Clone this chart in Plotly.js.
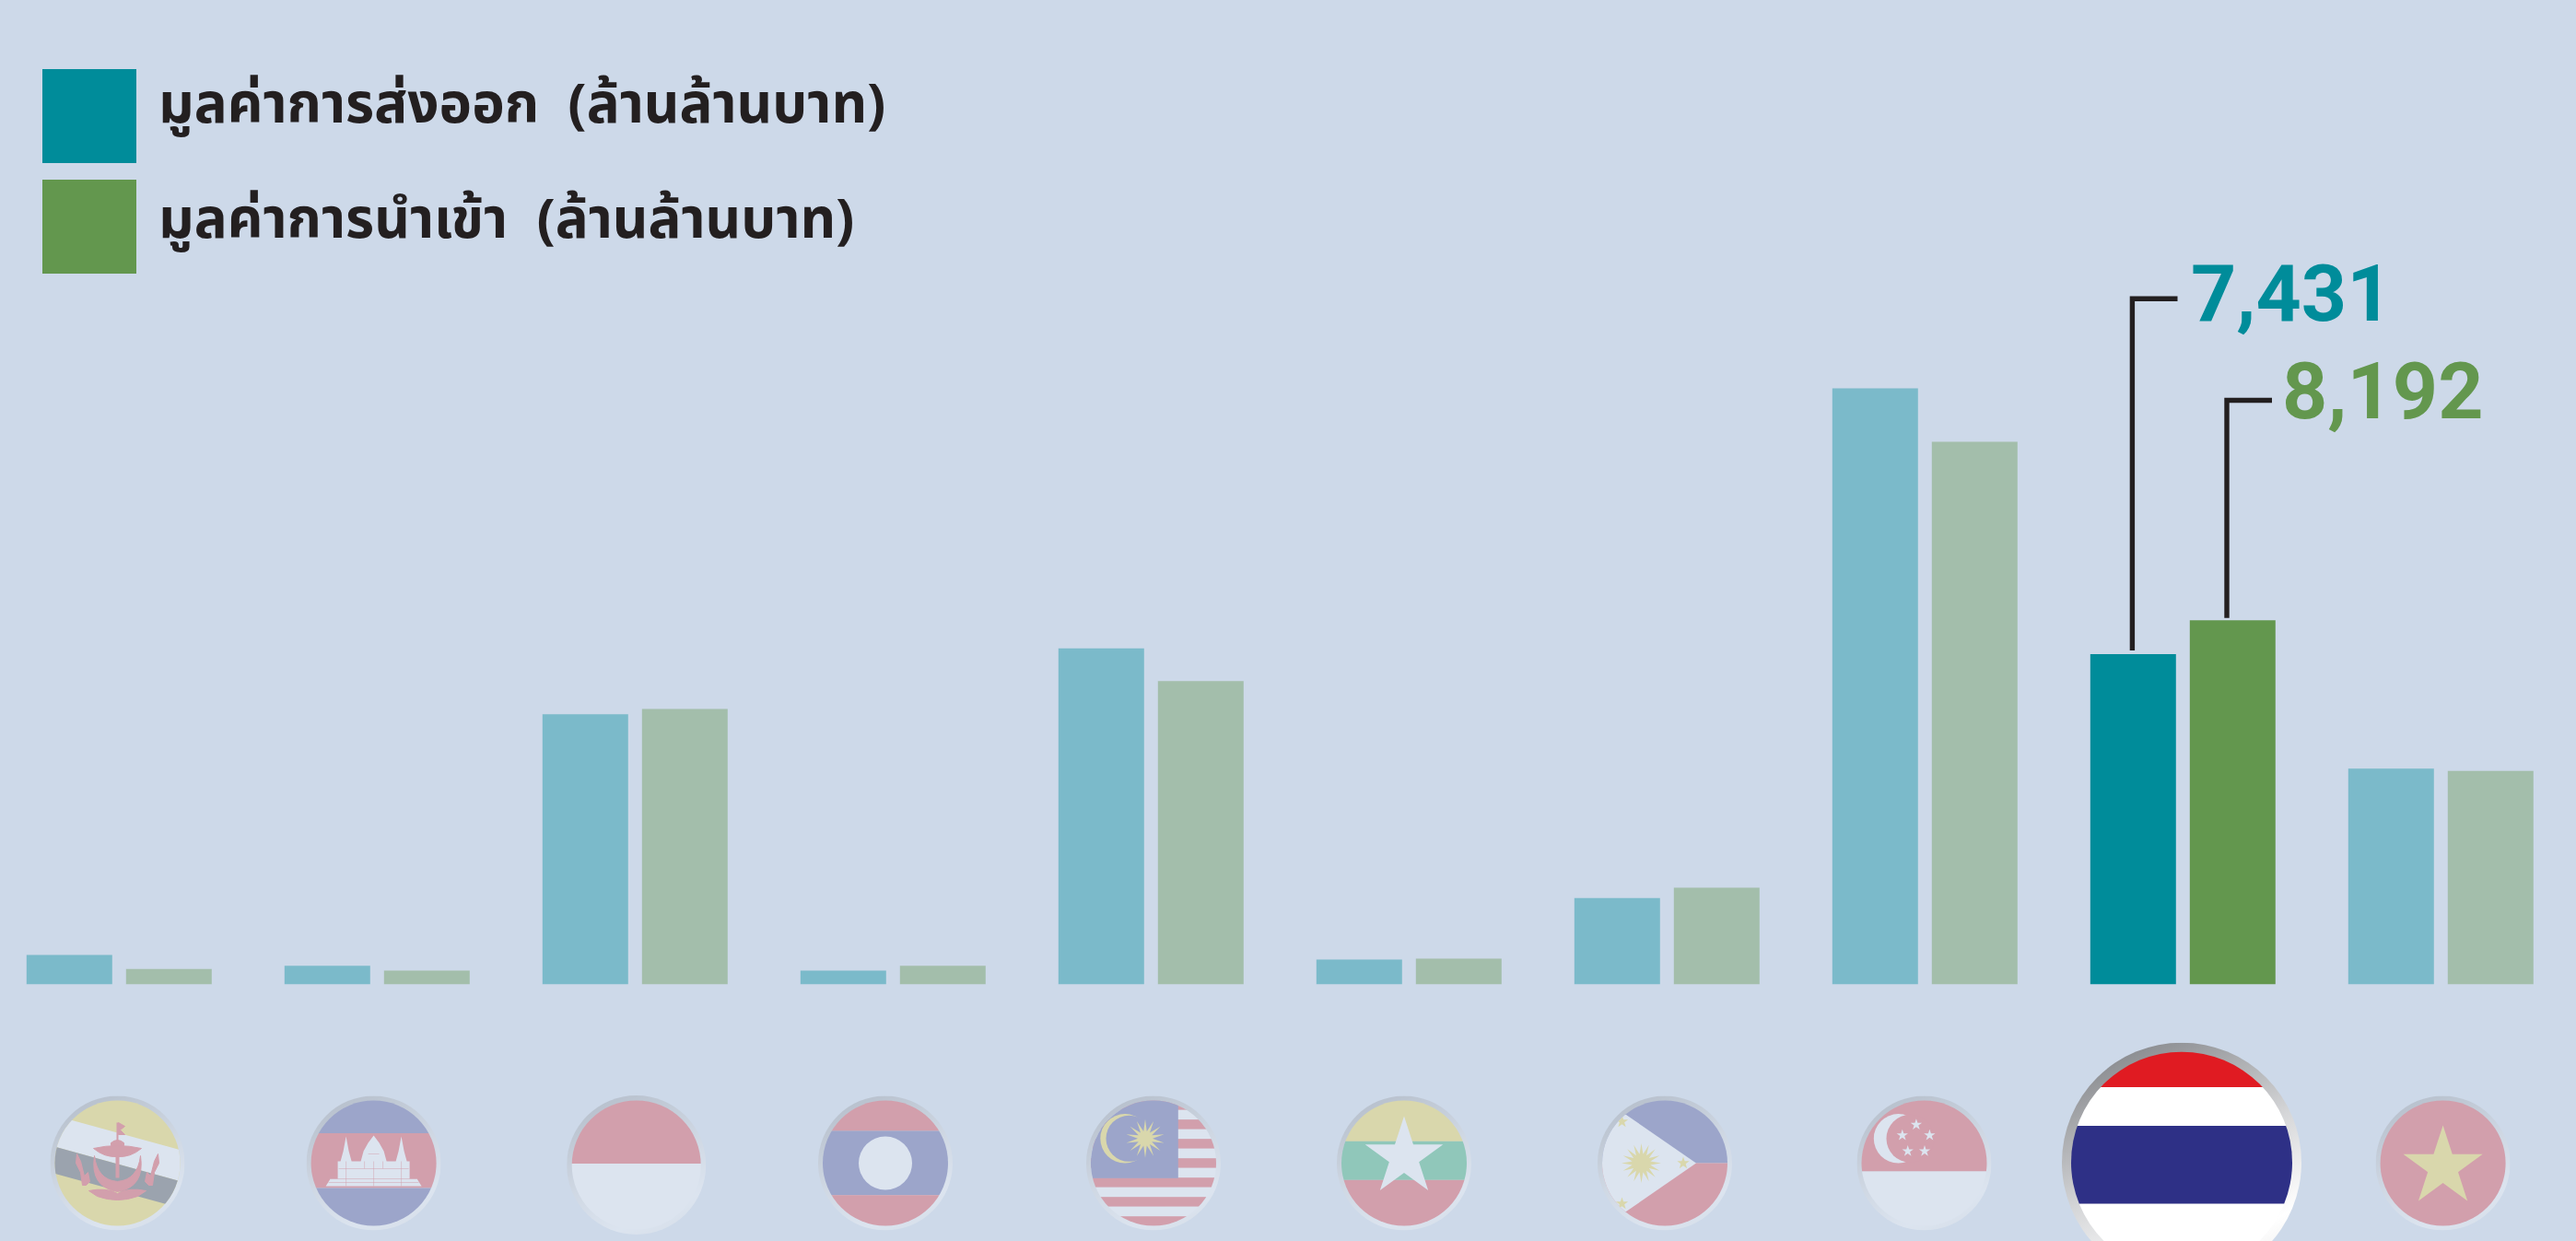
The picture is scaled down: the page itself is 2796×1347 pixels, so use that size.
<!DOCTYPE html>
<html>
<head>
<meta charset="utf-8">
<script src="https://cdn.plot.ly/plotly-3.0.1.min.js"></script>
<style>html,body{margin:0;padding:0;background:#CDD9E9;overflow:hidden}#chart{width:2796px;height:1347px}</style>
</head>
<body>
<div id="chart"></div>
<script>
const countries = ['บรูไน','กัมพูชา','อินโดนีเซีย','ลาว','มาเลเซีย','เมียนมา','ฟิลิปปินส์','สิงคโปร์','ไทย','เวียดนาม'];
const exportValues = [658, 415, 6079, 305, 7560, 554, 1938, 13417, 7431, 4855];
const importValues = [340, 305, 6197, 415, 6826, 575, 2172, 12214, 8192, 4801];
const exportName = 'มูลค่าการส่งออก  (ล้านล้านบาท)';
const importName = 'มูลค่าการนำเข้า  (ล้านล้านบาท)';
const highlight = 'ไทย';
const exportLabel = '7,431';
const importLabel = '8,192';

const W = 2796, H = 1347;
const BG = '#CDD9E9', TEAL = '#008C9A', GREEN = '#63974E', INK = '#231F20';
const THAI_FONT = '"Noto Sans Thai","Noto Sans Thai Looped","Noto Sans","Open Sans",sans-serif';
const NUM_FONT = 'Roboto,"Liberation Sans",sans-serif';
const px = x => x / W, py = y => 1 - y / H;

/* flag artwork */
const R = '#E01B22', WHT = '#FFFFFF', BL = '#2E3086', Y = '#F5D521', G = '#08A050', K = '#2A2A2A';
function star(cx, cy, r, n, inner, fill) {
  const p = [];
  for (let i = 0; i < n * 2; i++) {
    const a = -Math.PI / 2 + i * Math.PI / n, q = i % 2 ? inner : r;
    p.push((cx + q * Math.cos(a)).toFixed(2) + ',' + (cy + q * Math.sin(a)).toFixed(2));
  }
  return `<polygon points="${p.join(' ')}" fill="${fill}"/>`;
}
const rect = (x, y, w, h, f) => `<rect x="${x}" y="${y}" width="${w}" height="${h}" fill="${f}"/>`;
const bands = (list) => list.map(([a, b, f]) => rect(-200, a, 400, b - a, f)).join('');
const poly = (pts, f) => `<polygon points="${pts}" fill="${f}"/>`;

const art = {
  brunei: () => rect(-80, -80, 160, 160, Y) +
    poly('-100,-60.5 100,-5.5 100,28.4 -100,-26.6', WHT) +
    poly('-100,-26.6 100,28.4 100,57.5 -100,2.5', K) +
    `<g fill="${R}" stroke="${R}">
      <path d="M0,-44 V-20" stroke-width="2"/><polygon points="1,-44 8,-40 3,-36 8,-31 1,-31"/>
      <path d="M-7,-22 Q0,-28 7,-22 V-19 H-7 Z"/>
      <path d="M-26,-16 Q0,-22 26,-16 Q14,-6 0,-7 Q-14,-6 -26,-16 Z"/>
      <path d="M0,-8 V16" stroke-width="4"/>
      <path d="M-25,-8 Q-30,26 0,31 Q30,26 25,-8 Q22,18 0,20 Q-22,18 -25,-8 Z"/>
      <path d="M-44,-10 L-40,-2 L-36,14 L-32,10 L-30,20 L-34,24 L-38,24 L-40,10 L-45,0 Z"/>
      <path d="M44,-10 L40,-2 L36,14 L32,10 L30,20 L34,24 L38,24 L40,10 L45,0 Z"/>
      <path d="M-31,30 Q-12,26 0,33 Q12,26 31,30 L22,36 Q0,44 -22,36 Z"/>
     </g>`,
  cambodia: () => bands([[-80, -32.5, BL], [-32.5, 27, R], [27, 80, BL]]) +
    `<g fill="${WHT}">
      <polygon points="-52,25 -47,17 -39,17 -39,-2 -36,-2 -33,-13 -30,-29 -27,-13 -24,-2 -14,-2 -11,-13 -6,-22 0,-30 6,-22 11,-13 14,-2 24,-2 27,-13 30,-29 33,-13 36,-2 39,-2 39,17 47,17 52,25"/>
     </g>
     <g stroke="${R}" stroke-width="0.8" opacity="0.6" fill="none">
      <path d="M-47,17 H47 M-49,21 H49 M-38,6 H38 M-30,-2 V25 M0,-2 V25 M30,-2 V25 M-6,-10 H6 M-10,-2 V6 M10,-2 V6"/>
     </g>`,
  indonesia: () => bands([[-80, -1.5, R], [-1.5, 80, WHT]]),
  laos: () => bands([[-80, -35, R], [-35, 34.7, BL], [34.7, 80, R]]) + `<circle r="29" fill="${WHT}"/>`,
  malaysia: () => {
    let s = '';
    for (let i = 0; i < 13; i++) s += rect(-80, -68.3 + i * 10.5, 160, 10.6, i % 2 ? WHT : R);
    s += rect(-80, -80, 106.8, 96.3, BL);
    s += `<circle cx="-31" cy="-26.7" r="26.7" fill="${Y}"/>`;
    s += `<circle cx="-26.5" cy="-26.7" r="25" fill="${BL}"/>`;
    s += star(-9, -26.7, 21, 14, 8, Y);
    return s;
  },
  myanmar: () => bands([[-80, -23.7, Y], [-23.7, 18.3, G], [18.3, 80, R]]) + star(0, -6.5, 44.5, 5, 17, WHT),
  philippines: () => bands([[-80, 0, BL], [0, 80, R]]) +
    poly('-80,-52.5 -42,-52.5 34,0 -42,52.5 -80,52.5', WHT) +
    star(-25.5, 0, 21.5, 16, 10, Y) + star(-46.5, -45, 7, 5, 2.8, Y) + star(-46.5, 44, 7, 5, 2.8, Y) + star(20, 0, 7, 5, 2.8, Y),
  singapore: () => bands([[-80, 9, R], [9, 80, WHT]]) +
    `<circle cx="-28" cy="-26.7" r="26.7" fill="${WHT}"/><circle cx="-15" cy="-26.7" r="26" fill="${R}"/>` +
    star(-8.6, -41.7, 6.5, 5, 2.5, WHT) + star(-23.7, -30.3, 6.5, 5, 2.5, WHT) + star(5.9, -30.3, 6.5, 5, 2.5, WHT) +
    star(-17.8, -13, 6.5, 5, 2.5, WHT) + star(0.5, -13, 6.5, 5, 2.5, WHT),
  thailand: () => bands([[-130, -81.7, R], [-81.7, -39.7, WHT], [-39.7, 45, BL], [45, 87, WHT], [87, 130, R]]),
  vietnam: () => rect(-80, -80, 160, 160, R) + star(0, 4.3, 45.3, 5, 17.3, Y),
};
const flags = [
  {id: 'brunei', cx: 127.5, cy: 1262.5, r: 68, ring: 73},
  {id: 'cambodia', cx: 405.6, cy: 1262.5, r: 68, ring: 73},
  {id: 'indonesia', cx: 690.7, cy: 1264.5, r: 70, ring: 75.5},
  {id: 'laos', cx: 961, cy: 1262.5, r: 68, ring: 73},
  {id: 'malaysia', cx: 1252, cy: 1262.5, r: 68, ring: 73},
  {id: 'myanmar', cx: 1524, cy: 1262.5, r: 68, ring: 73},
  {id: 'philippines', cx: 1807, cy: 1262.5, r: 68, ring: 73},
  {id: 'singapore', cx: 2088.5, cy: 1262.5, r: 68, ring: 73},
  {id: 'thailand', cx: 2368, cy: 1261.7, r: 120, ring: 130, active: true},
  {id: 'vietnam', cx: 2651.6, cy: 1262.5, r: 68, ring: 73},
];
function flagSource(f) {
  const v = f.ring;
  const svg = `<svg xmlns="http://www.w3.org/2000/svg" viewBox="${-v} ${-v} ${2 * v} ${2 * v}" width="${4 * v}" height="${4 * v}">
    <defs>
      <linearGradient id="g" x1="0.25" y1="0" x2="0.7" y2="1">
        <stop offset="0" stop-color="#85878B"/><stop offset="0.5" stop-color="#D5D6D8"/><stop offset="0.85" stop-color="#FFFFFF"/><stop offset="1" stop-color="#F0F0F0"/>
      </linearGradient>
      <clipPath id="c"><circle r="${f.r}"/></clipPath>
    </defs>
    <circle r="${v}" fill="url(#g)"/>
    <g clip-path="url(#c)">${art[f.id]()}</g>
  </svg>`;
  return 'data:image/svg+xml;charset=utf-8,' + encodeURIComponent(svg);
}
const images = flags.map(f => ({
  source: flagSource(f), xref: 'paper', yref: 'paper',
  x: px(f.cx), y: py(f.cy), sizex: 2 * f.ring / W, sizey: 2 * f.ring / H,
  xanchor: 'center', yanchor: 'middle', sizing: 'stretch', layer: 'above',
  opacity: f.active ? 1 : 0.3,
}));

/* scales: one category = 280 px, one value unit = 0.0482 px, baseline at y = 1068.7 */
const catPx = 280, firstCentre = 129.3, unitPx = 0.0482, baseY = 1068.2;
const barOpacity = countries.map(c => c === highlight ? 1 : 0.4);

const traces = [
  {type: 'bar', name: exportName, x: countries, y: exportValues, marker: {color: TEAL, opacity: barOpacity, line: {width: 0}}, hoverinfo: 'x+y'},
  {type: 'bar', name: importName, x: countries, y: importValues, marker: {color: GREEN, opacity: barOpacity, line: {width: 0}}, hoverinfo: 'x+y'},
];

const rectShape = (x0, y0, x1, y1, color) => ({type: 'rect', xref: 'paper', yref: 'paper', x0: px(x0), x1: px(x1), y0: py(y0), y1: py(y1), fillcolor: color, line: {width: 0}});
const leader = (x, top, bottom, right) => ({type: 'path', xref: 'paper', yref: 'paper',
  path: `M ${px(right)} ${py(top)} L ${px(x)} ${py(top)} L ${px(x)} ${py(bottom)}`,
  line: {color: INK, width: 5.4}, fillcolor: 'rgba(0,0,0,0)'});
const shapes = [
  rectShape(46, 75, 148, 177, TEAL),
  rectShape(46, 195, 148, 297, GREEN),
  leader(2314.4, 324.3, 706, 2363.5),
  leader(2417, 434.5, 670.7, 2466),
];
const note = (text, x, y, color, size, family, weight) => ({text, xref: 'paper', yref: 'paper', x: px(x), y: py(y), xanchor: 'left', yanchor: 'middle', showarrow: false, font: {family, size, color, weight}});
const annotations = [
  note(exportName, 170, 115, INK, 60, THAI_FONT, 700),
  note(importName, 170, 240, INK, 60, THAI_FONT, 700),
  note(exportLabel, 2376, 318, TEAL, 86, NUM_FONT, 700),
  note(importLabel, 2475, 424, GREEN, 86, NUM_FONT, 700),
];

const layout = {
  width: W, height: H,
  margin: {l: 0, r: 0, t: 0, b: 0, pad: 0},
  paper_bgcolor: BG, plot_bgcolor: BG,
  showlegend: false,
  barmode: 'group', bargap: 0.2286, bargroupgap: 0.139,
  xaxis: {type: 'category', categoryorder: 'array', categoryarray: countries,
    range: [-firstCentre / catPx, (W - firstCentre) / catPx],
    showticklabels: false, ticks: '', showgrid: false, zeroline: false, showline: false},
  yaxis: {range: [-(H - baseY) / unitPx, baseY / unitPx],
    showticklabels: false, ticks: '', showgrid: false, zeroline: false, showline: false},
  shapes, annotations, images,
};
Plotly.newPlot('chart', traces, layout, {displayModeBar: false, staticPlot: true});
</script>
</body>
</html>
